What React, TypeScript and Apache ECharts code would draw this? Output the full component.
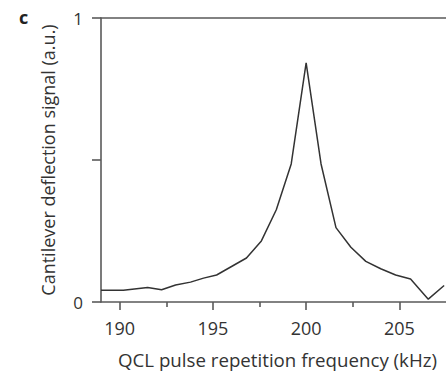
import React, { useEffect, useRef } from "react";
import * as echarts from "echarts";

const freqKHz = [189.0, 190.2, 191.5, 192.25, 193.0, 193.8, 194.5, 195.2, 196.0, 196.8, 197.6, 198.4, 199.2, 200.0, 200.8, 201.6, 202.4, 203.2, 204.0, 204.8, 205.6, 206.55, 207.4];
const signal = [0.041, 0.041, 0.051, 0.043, 0.06, 0.07, 0.084, 0.095, 0.125, 0.155, 0.215, 0.325, 0.486, 0.842, 0.486, 0.262, 0.193, 0.143, 0.117, 0.095, 0.081, 0.01, 0.058];
const majorTicks = [190, 195, 200, 205];
const minorTicks = [192.5, 197.5, 202.5];
const yLabels = [0, 1];
const xTitle = "QCL pulse repetition frequency (kHz)";
const yTitle = "Cantilever deflection signal (a.u.)";
const panel = "c";

const FONT = "Open Sans";
const AX = "#5a5a5a";
const TXT = "#333333";

export default function App() {
  const ref = useRef<HTMLDivElement>(null);
  useEffect(() => {
    if (!ref.current) return;
    const chart = echarts.init(ref.current, undefined, { renderer: "svg" });
    const xmin = 189, xmax = 207.5;
    chart.setOption({
      animation: false,
      backgroundColor: "#ffffff",
      grid: { left: 101, right: 0, top: 18, bottom: 70, containLabel: false },
      xAxis: [
        {
          type: "value", min: xmin, max: xmax, position: "bottom",
          axisLine: { show: true, lineStyle: { color: AX, width: 1.6 } },
          axisTick: { show: true, customValues: majorTicks, length: 8, lineStyle: { color: AX, width: 1.6 } },
          axisLabel: { show: true, customValues: majorTicks, fontSize: 18, color: TXT, fontFamily: FONT, margin: 17 },
          splitLine: { show: false },
          name: xTitle, nameLocation: "middle", nameGap: 48,
          nameTextStyle: { fontSize: 18.7, color: TXT, fontFamily: FONT, padding: [0, 0, 0, 8] },
        },
        {
          type: "value", min: xmin, max: xmax, position: "bottom",
          axisLine: { show: false },
          axisTick: { show: true, customValues: minorTicks, length: 5, lineStyle: { color: AX, width: 1.6 } },
          axisLabel: { show: false },
          splitLine: { show: false },
        },
        {
          type: "value", min: xmin, max: xmax, position: "top",
          axisLine: { show: true, lineStyle: { color: AX, width: 1.6 } },
          axisTick: { show: false },
          axisLabel: { show: false },
          splitLine: { show: false },
        },
      ],
      yAxis: {
        type: "value", min: 0, max: 1, interval: 0.5,
        axisLine: { show: true, lineStyle: { color: AX, width: 1.6 } },
        axisTick: { show: true, length: 9, lineStyle: { color: AX, width: 1.6 } },
        axisLabel: {
          fontSize: 17, color: TXT, fontFamily: FONT, margin: 18,
          formatter: (v: number) => (yLabels.includes(v) ? String(v) : ""),
        },
        splitLine: { show: false },
        name: yTitle, nameLocation: "middle", nameRotate: 90, nameGap: 44,
        nameTextStyle: { fontSize: 18, color: TXT, fontFamily: FONT },
      },
      graphic: [
        { type: "text", left: 19, top: 8, style: { text: panel, fontSize: 18, fontWeight: "bold", fill: "#222", fontFamily: FONT } },
      ],
      series: [
        {
          type: "line", xAxisIndex: 0, data: freqKHz.map((f, i) => [f, signal[i]]),
          showSymbol: false, symbol: "none", lineStyle: { color: "#333", width: 1.5 }, clip: true,
        },
      ],
    });
    return () => chart.dispose();
  }, []);
  return <div ref={ref} style={{ width: 446, height: 374, position: "absolute", left: 0, top: 0 }} />;
}
